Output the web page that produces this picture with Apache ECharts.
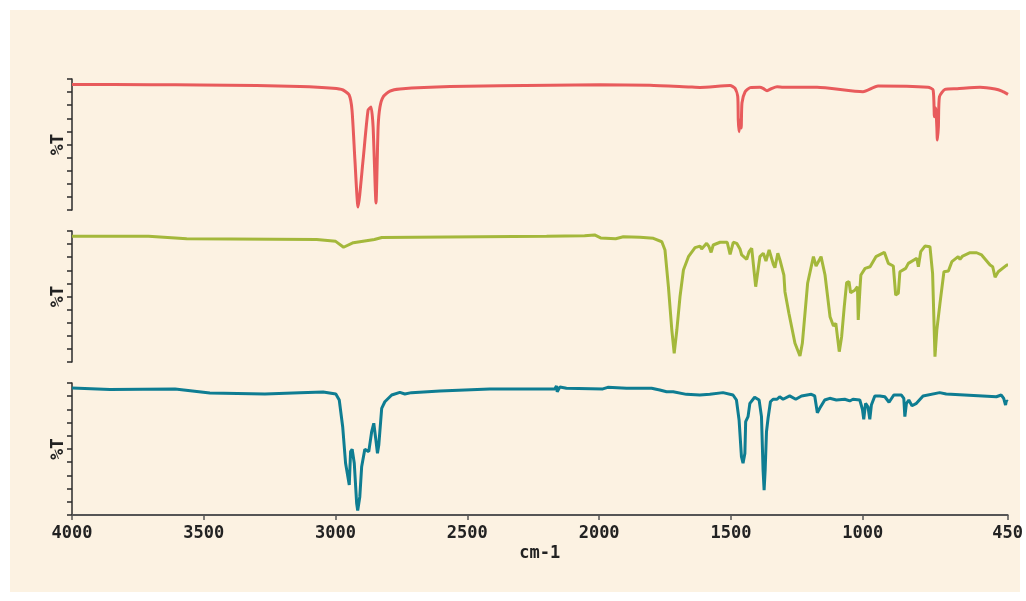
<!DOCTYPE html>
<html>
<head>
<meta charset="utf-8">
<script src="https://cdn.jsdelivr.net/npm/echarts@6/dist/echarts.min.js"></script>
<style>
html,body{margin:0;padding:0;background:#ffffff;}
#chart{width:1026px;height:601px;}
</style>
</head>
<body>
<div id="chart"></div>
<script>
// x-axis tick labels (wavenumber, cm-1)
const xTicks = [4000, 3500, 3000, 2500, 2000, 1500, 1000, 450];

// Spectrum 1 (red)
const redWn = [4000, 3700, 3515, 3300, 3135, 3010, 2972, 2949, 2938, 2927, 2915, 2896, 2877, 2866, 2858, 2847, 2839, 2832, 2820, 2794, 2756, 2566, 2187, 1997, 1808, 1656, 1618, 1504, 1485, 1475, 1473, 1470, 1466, 1462, 1459, 1447, 1428, 1391, 1379, 1364, 1345, 1326, 1303, 1174, 1000, 943, 753, 734, 729, 724, 720, 718, 714, 710, 689, 643, 556, 499, 473, 450];
const redT = [95.8, 95.7, 95.5, 95.0, 94.3, 92.9, 91.6, 87.8, 76.3, 38.2, 2.3, 38.2, 76.3, 78.6, 63.4, 5.3, 63.4, 78.6, 86.3, 90.8, 92.4, 94.2, 95.2, 95.6, 95.2, 93.9, 93.6, 95.0, 92.9, 86.5, 68.7, 59.8, 68.7, 62.6, 81.7, 90.3, 93.4, 93.7, 92.9, 91.1, 92.9, 94.1, 93.7, 93.7, 90.3, 94.7, 93.7, 91.6, 71.2, 77.9, 63.6, 53.4, 63.6, 86.5, 92.1, 92.6, 93.7, 92.4, 90.8, 88.3];

// Spectrum 2 (green)
const greenWn = [4000, 3710, 3565, 3072, 3000, 2970, 2933, 2853, 2825, 2200, 2056, 2018, 1995, 1938, 1909, 1846, 1795, 1763, 1751, 1738, 1725, 1716, 1706, 1694, 1681, 1662, 1637, 1618, 1612, 1593, 1584, 1576, 1568, 1542, 1515, 1504, 1492, 1479, 1466, 1460, 1441, 1432, 1422, 1407, 1399, 1391, 1378, 1368, 1356, 1349, 1340, 1334, 1323, 1315, 1300, 1296, 1281, 1258, 1239, 1230, 1220, 1210, 1188, 1178, 1159, 1144, 1125, 1112, 1103, 1090, 1081, 1071, 1062, 1053, 1047, 1030, 1021, 1018, 1011, 1008, 992, 973, 951, 919, 904, 885, 876, 866, 860, 838, 828, 796, 790, 781, 765, 746, 736, 727, 720, 708, 693, 676, 663, 639, 632, 622, 594, 569, 550, 518, 508, 499, 487, 455, 450];
const greenT = [95.9, 95.9, 94.1, 93.5, 92.1, 87.6, 91.1, 93.5, 95.0, 95.9, 96.4, 97.0, 94.7, 94.1, 95.6, 95.2, 94.4, 91.8, 85.5, 57.5, 24.4, 6.6, 24.4, 49.8, 70.2, 80.4, 87.3, 88.5, 86.3, 90.6, 88.0, 83.7, 89.3, 91.4, 91.4, 82.2, 91.4, 90.6, 86.0, 81.7, 78.4, 84.2, 86.8, 57.5, 68.9, 80.4, 83.0, 77.1, 85.5, 84.2, 74.6, 72.0, 83.0, 77.9, 66.4, 53.7, 37.2, 14.3, 4.6, 14.3, 37.2, 60.1, 80.4, 73.3, 80.4, 66.4, 34.6, 27.5, 29.5, 7.9, 19.3, 42.2, 60.5, 61.3, 52.9, 55.0, 57.5, 32.1, 57.5, 66.4, 71.5, 72.7, 80.4, 83.7, 75.3, 73.3, 51.1, 52.4, 68.9, 71.5, 75.3, 79.2, 72.7, 84.2, 88.5, 88.0, 67.7, 4.0, 24.4, 44.8, 68.9, 69.5, 76.6, 80.4, 78.4, 80.9, 83.4, 83.4, 81.7, 74.0, 72.7, 64.7, 68.9, 74.0, 74.0];

// Spectrum 3 (teal)
const tealWn = [4000, 3856, 3609, 3477, 3268, 3135, 3047, 2999, 2986, 2973, 2962, 2948, 2943, 2937, 2929, 2920, 2916, 2908, 2901, 2889, 2874, 2863, 2855, 2847, 2841, 2836, 2825, 2813, 2787, 2756, 2737, 2712, 2604, 2415, 2168, 2162, 2159, 2149, 2124, 1986, 1967, 1896, 1801, 1770, 1744, 1719, 1669, 1618, 1580, 1530, 1492, 1479, 1469, 1460, 1454, 1447, 1444, 1435, 1428, 1410, 1393, 1384, 1378, 1374, 1370, 1365, 1359, 1355, 1350, 1340, 1325, 1315, 1302, 1277, 1254, 1232, 1195, 1182, 1172, 1163, 1144, 1125, 1100, 1068, 1049, 1037, 1011, 1001, 996, 989, 980, 973, 967, 954, 935, 916, 900, 882, 853, 844, 840, 834, 825, 819, 813, 796, 771, 708, 683, 493, 474, 465, 458, 455, 450];
const tealT = [96.2, 95.1, 95.5, 92.4, 91.7, 92.7, 93.2, 91.7, 87.1, 66.9, 39.2, 22.7, 48.0, 49.8, 39.2, 8.9, 3.3, 13.9, 36.6, 49.8, 48.0, 63.1, 69.5, 56.8, 46.7, 53.0, 80.8, 85.8, 90.9, 92.9, 91.7, 92.7, 93.9, 95.5, 95.5, 97.7, 93.4, 97.0, 96.0, 95.5, 96.7, 96.0, 96.0, 94.7, 93.4, 93.4, 91.4, 91.0, 91.4, 92.7, 90.9, 87.1, 72.0, 44.2, 39.2, 46.7, 70.7, 74.5, 84.6, 89.2, 87.1, 74.5, 34.1, 18.9, 34.1, 63.1, 73.3, 72.0, 85.8, 87.7, 87.7, 89.6, 87.7, 90.2, 87.7, 90.2, 91.4, 90.2, 77.5, 80.8, 87.1, 88.4, 87.1, 87.7, 86.4, 87.7, 87.1, 80.1, 72.5, 84.6, 82.0, 72.5, 83.3, 90.2, 90.2, 89.6, 85.4, 90.9, 90.9, 88.4, 74.5, 84.6, 87.1, 88.4, 82.8, 84.6, 90.2, 92.7, 91.7, 89.6, 90.9, 88.4, 83.3, 86.6, 85.8];

const zip = (a, b) => a.map((v, i) => [v, b[i]]);

const FONT = '"DejaVu Sans Mono", monospace';
const axisColor = '#2b2b2b';

function yAxis(idx) {
  return {
    gridIndex: idx, type: 'value', min: 0, max: 100, interval: 10,
    name: '%T', nameLocation: 'middle', nameGap: 5,
    nameTextStyle: { fontFamily: FONT, fontWeight: 'bold', fontSize: 18, color: '#222' },
    axisLine: { show: true, lineStyle: { color: axisColor, width: 1.5 } },
    axisTick: { show: true, inside: false, length: 5, lineStyle: { color: axisColor, width: 1.5 } },
    axisLabel: { show: false },
    splitLine: { show: false }
  };
}
function xAxis(idx, visible) {
  return {
    gridIndex: idx, type: 'value', min: 450, max: 4000, inverse: true, show: visible,
    name: visible ? 'cm-1' : '', nameLocation: 'middle', nameGap: 30,
    nameTextStyle: { fontFamily: FONT, fontWeight: 'bold', fontSize: 17, color: '#222' },
    axisLine: { show: true, onZero: false, lineStyle: { color: '#555', width: 2 } },
    axisTick: { show: true, inside: false, length: 5, customValues: xTicks, lineStyle: { color: '#555', width: 1.5 } },
    axisLabel: { show: true, customValues: xTicks, margin: 10, formatter: v => String(v),
      fontFamily: FONT, fontWeight: 'bold', fontSize: 17, color: '#222' },
    splitLine: { show: false }
  };
}

const chart = echarts.init(document.getElementById('chart'), null, { renderer: 'canvas' });
chart.setOption({
  animation: false,
  backgroundColor: '#ffffff',
  graphic: [{ type: 'rect', z: -10, silent: true, shape: { x: 10, y: 10, width: 1010, height: 582 }, style: { fill: '#fcf2e2' } }],
  grid: [
    { left: 72, right: 18, top: 79, height: 131 },
    { left: 72, right: 18, top: 231, height: 131 },
    { left: 72, right: 18, top: 383, height: 132 }
  ],
  xAxis: [xAxis(0, false), xAxis(1, false), xAxis(2, true)],
  yAxis: [yAxis(0), yAxis(1), yAxis(2)],
  series: [
    { type: 'line', xAxisIndex: 0, yAxisIndex: 0, data: zip(redWn, redT), showSymbol: false, smooth: 0.2,
      lineStyle: { color: '#e85b5c', width: 3 } },
    { type: 'line', xAxisIndex: 1, yAxisIndex: 1, data: zip(greenWn, greenT), showSymbol: false,
      lineStyle: { color: '#a4b83b', width: 3 } },
    { type: 'line', xAxisIndex: 2, yAxisIndex: 2, data: zip(tealWn, tealT), showSymbol: false,
      lineStyle: { color: '#0e7d92', width: 3 } }
  ]
});
</script>
</body>
</html>
